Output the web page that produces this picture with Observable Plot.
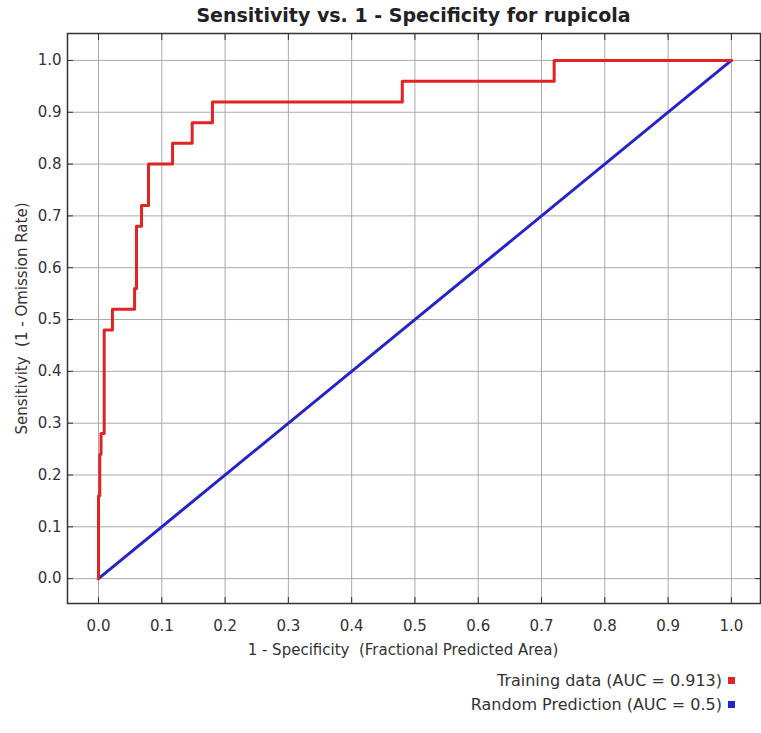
<!DOCTYPE html>
<html><head><meta charset="utf-8">
<script src="https://cdn.jsdelivr.net/npm/d3@7"></script>
<script src="https://cdn.jsdelivr.net/npm/@observablehq/plot@0.6"></script>
<style>
body{margin:0;background:#fff;}
#wrap{position:relative;width:761px;height:733px;font-family:"DejaVu Sans",sans-serif;color:#333;}
#title{position:absolute;left:67px;width:693px;top:4px;text-align:center;font-weight:bold;font-size:19px;color:#222;}
#chart{position:absolute;top:30px;left:0;}
#legend{position:absolute;right:26px;top:668px;font-size:16px;color:#333;}
.row{display:flex;align-items:center;justify-content:flex-end;height:24px;}
.sw{width:7px;height:7px;margin-left:6px;}
</style></head>
<body>
<div id="wrap">
  <div id="title"></div>
  <div id="chart"></div>
  <div id="legend"></div>
</div>
<script>
const titleText = "Sensitivity vs. 1 - Specificity for rupicola";
const xLabel = "1 - Specificity  (Fractional Predicted Area)";
const yLabel = "Sensitivity  (1 - Omission Rate)";
const seriesNames = ["Training data (AUC = 0.913)", "Random Prediction (AUC = 0.5)"];
const seriesColors = ["#e02424", "#2424c8"];

// Training ROC vertices (1 - specificity, sensitivity)
const trainFpr = [0, 0, 0.002, 0.002, 0.004, 0.004, 0.009, 0.009, 0.022, 0.022, 0.057, 0.057, 0.06, 0.06, 0.068, 0.068, 0.079, 0.079, 0.117, 0.117, 0.148, 0.148, 0.18, 0.18, 0.48, 0.48, 0.72, 0.72, 1.0];
const trainTpr = [0, 0.16, 0.16, 0.24, 0.24, 0.28, 0.28, 0.48, 0.48, 0.52, 0.52, 0.56, 0.56, 0.68, 0.68, 0.72, 0.72, 0.80, 0.80, 0.84, 0.84, 0.88, 0.88, 0.92, 0.92, 0.96, 0.96, 1.0, 1.0];
// Random prediction
const randFpr = [0, 1];
const randTpr = [0, 1];

const ticks = [0, 0.1, 0.2, 0.3, 0.4, 0.5, 0.6, 0.7, 0.8, 0.9, 1.0];
const tickLabels = ["0.0", "0.1", "0.2", "0.3", "0.4", "0.5", "0.6", "0.7", "0.8", "0.9", "1.0"];

const training = trainFpr.map((x, i) => ({x, y: trainTpr[i]}));
const random = randFpr.map((x, i) => ({x, y: randTpr[i]}));
const fmt = d => tickLabels[ticks.indexOf(d)];

document.getElementById("title").textContent = titleText;

const chart = Plot.plot({
  width: 761, height: 640,
  marginLeft: 67, marginRight: 1, marginTop: 3, marginBottom: 67,
  style: {fontFamily: "DejaVu Sans, sans-serif", fontSize: "15px", color: "#333", background: "white"},
  x: {domain: [-0.049, 1.046]},
  y: {domain: [-0.048, 1.052]},
  marks: [
    Plot.gridX(ticks, {stroke: "#aaa", strokeOpacity: 1}),
    Plot.gridY(ticks, {stroke: "#aaa", strokeOpacity: 1}),
    Plot.line(random, {x: "x", y: "y", stroke: seriesColors[1], strokeWidth: 3}),
    Plot.line(training, {x: "x", y: "y", stroke: seriesColors[0], strokeWidth: 3}),
    Plot.axisX(ticks, {anchor: "bottom", tickSize: -6, tickPadding: 23, tickFormat: fmt, label: null, stroke: "#333"}),
    Plot.axisX(ticks, {anchor: "top", tickSize: -6, tickFormat: () => "", label: null, stroke: "#333"}),
    Plot.axisY(ticks, {anchor: "left", tickSize: -6, tickPadding: 12, tickFormat: fmt, label: null, stroke: "#333"}),
    Plot.axisY(ticks, {anchor: "right", tickSize: -6, tickFormat: () => "", label: null, stroke: "#333"}),
    Plot.frame({stroke: "#333", strokeWidth: 1.5}),
    Plot.text([xLabel], {frameAnchor: "bottom", dy: 47, dx: -11, textAnchor: "middle", lineAnchor: "middle", fontSize: 15, fill: "#333"}),
    Plot.text([yLabel], {frameAnchor: "left", dx: -45, rotate: -90, textAnchor: "middle", lineAnchor: "middle", fontSize: 15, fill: "#333"})
  ]
});
document.getElementById("chart").appendChild(chart);

const leg = document.getElementById("legend");
seriesNames.forEach((name, i) => {
  const row = document.createElement("div");
  row.className = "row";
  const t = document.createElement("span");
  t.textContent = name;
  const s = document.createElement("span");
  s.className = "sw";
  s.style.background = seriesColors[i];
  row.appendChild(t); row.appendChild(s);
  leg.appendChild(row);
});
</script>
</body></html>
